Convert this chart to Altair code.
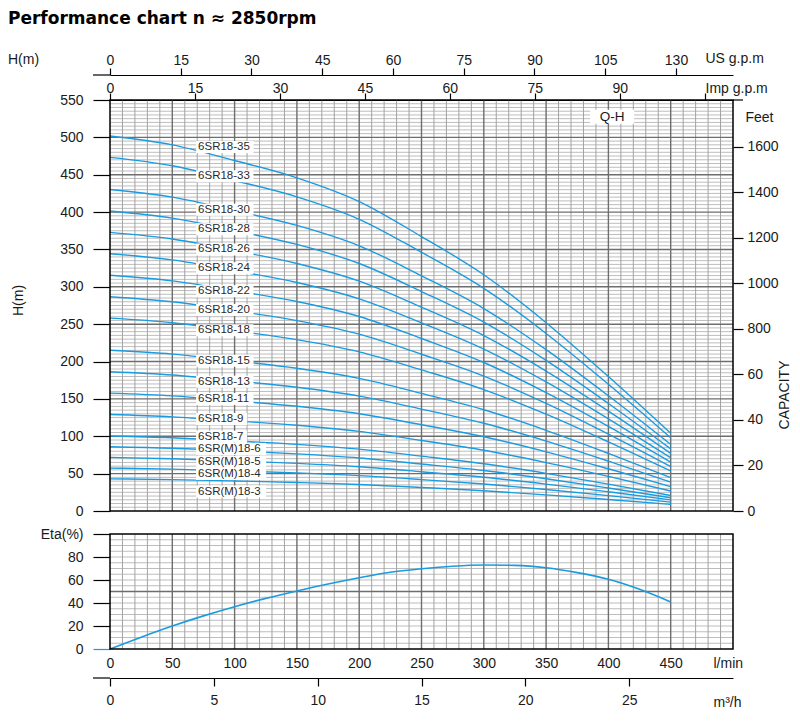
import altair as alt
import pandas as pd

FONT = "Liberation Sans"
BLUE = "#1a9be0"
TXT = "#1a1a1a"

# ---------------- data ----------------
flow_lpm = [0, 50, 100, 150, 200, 250, 300, 350, 400, 450]

models = ["6SR18-35", "6SR18-33", "6SR18-30", "6SR18-28", "6SR18-26", "6SR18-24",
          "6SR18-22", "6SR18-20", "6SR18-18", "6SR18-15", "6SR18-13", "6SR18-11",
          "6SR18-9", "6SR18-7", "6SR(M)18-6", "6SR(M)18-5", "6SR(M)18-4", "6SR(M)18-3"]

head_35 = [501.9, 490.0, 469.0, 445.9, 414.1, 367.2, 316.1, 252.0, 179.9, 104.0]
head_33 = [473.2, 462.0, 442.2, 420.4, 390.4, 346.2, 298.0, 237.6, 169.6, 98.0]
head_30 = [430.2, 420.0, 402.0, 382.2, 354.9, 314.7, 270.9, 216.0, 154.2, 89.1]
head_28 = [401.5, 392.0, 375.2, 356.7, 331.2, 293.7, 252.8, 201.6, 143.9, 83.2]
head_26 = [372.8, 364.0, 348.4, 331.2, 307.6, 272.7, 234.8, 187.2, 133.6, 77.2]
head_24 = [344.2, 336.0, 321.6, 305.8, 283.9, 251.8, 216.7, 172.8, 123.4, 71.3]
head_22 = [315.5, 308.0, 294.8, 280.3, 260.3, 230.8, 198.7, 158.4, 113.1, 65.3]
head_20 = [286.8, 280.0, 268.0, 254.8, 236.6, 209.8, 180.6, 144.0, 102.8, 59.4]
head_18 = [258.1, 252.0, 241.2, 229.3, 212.9, 188.8, 162.5, 129.6, 92.5, 53.5]
head_15 = [215.1, 210.0, 201.0, 191.1, 177.5, 157.4, 135.5, 108.0, 77.1, 44.6]
head_13 = [186.4, 182.0, 174.2, 165.6, 153.8, 136.4, 117.4, 93.6, 66.8, 38.6]
head_11 = [157.7, 154.0, 147.4, 140.1, 130.1, 115.4, 99.3, 79.2, 56.5, 32.7]
head_9 = [129.1, 126.0, 120.6, 114.7, 106.5, 94.4, 81.3, 64.8, 46.3, 26.7]
head_7 = [100.4, 98.0, 93.8, 89.2, 82.8, 73.4, 63.2, 50.4, 36.0, 20.8]
head_6 = [86.0, 84.0, 80.4, 76.4, 71.0, 62.9, 54.2, 43.2, 30.8, 17.8]
head_5 = [71.7, 70.0, 67.0, 63.7, 59.2, 52.5, 45.2, 36.0, 25.7, 14.9]
head_4 = [57.4, 56.0, 53.6, 51.0, 47.3, 42.0, 36.1, 28.8, 20.6, 11.9]
head_3 = [43.0, 42.0, 40.2, 38.2, 35.5, 31.5, 27.1, 21.6, 15.4, 8.9]

heads = [head_35, head_33, head_30, head_28, head_26, head_24, head_22, head_20, head_18,
         head_15, head_13, head_11, head_9, head_7, head_6, head_5, head_4, head_3]

# head (m) at which each curve's name label sits
label_head = [487, 448, 403, 377, 350, 325, 294, 269, 242, 201, 173, 150, 123, 99.5, 83, 66, 49.5, 26]

eta_flow = [0, 25, 50, 75, 100, 125, 150, 175, 200, 225, 250, 275, 300, 325, 350, 375, 400, 425, 450]
eta_pct = [0, 10.3, 20.0, 28.8, 36.8, 44.0, 50.4, 56.5, 62.0, 66.8, 69.8, 72.0, 73.0, 72.7, 70.7, 66.4, 60.6, 51.9, 40.9]

# axis ticks / labels
h_ticks = [0, 50, 100, 150, 200, 250, 300, 350, 400, 450, 500, 550]
feet_ticks = [0, 200, 400, 600, 800, 1000, 1200, 1400, 1600]
feet_labels = ["0", "20", "40", "60", "800", "1000", "1200", "1400", "1600"]
us_ticks = [0, 15, 30, 45, 60, 75, 90, 105, 120]
us_labels = ["0", "15", "30", "45", "60", "75", "90", "105", "130"]
imp_ticks = [0, 15, 30, 45, 60, 75, 90, 105]
imp_labels = ["0", "15", "30", "45", "60", "75", "90", ""]
lmin_ticks = [0, 50, 100, 150, 200, 250, 300, 350, 400, 450]
m3h_ticks = [0, 5, 10, 15, 20, 25, 30]
m3h_labels = ["0", "5", "10", "15", "20", "25", ""]
eta_ticks = [0, 20, 40, 60, 80, 100]
eta_labels = ["0", "20", "40", "60", "80", "Eta(%)"]

# ---------------- geometry / units ----------------
W = 623
H_MAIN = 411          # Q-H panel height
GAP = 23              # gap between the two panels
H_ETA = 115           # efficiency panel height
HT = H_MAIN + GAP + H_ETA
Q_MAX = 500
H_MAX = 550
LPM_PER_USGPM = 3.785411784
LPM_PER_IMPGPM = 4.54609
FT_PER_M = 3.28084
LPM_PER_M3H = 1000 / 60
PXQ = W / Q_MAX
PXH = H_MAIN / H_MAX

us_max = Q_MAX / LPM_PER_USGPM
imp_max = Q_MAX / LPM_PER_IMPGPM
m3h_max = Q_MAX / LPM_PER_M3H
ft_max = H_MAX * FT_PER_M


def lookup_expr(ticks, labels):
    t = ",".join(str(v) for v in ticks)
    l = ",".join("'" + s + "'" for s in labels)
    return f"[{l}][indexof([{t}], datum.value)]"


def qsc():
    return alt.Scale(domain=[0, Q_MAX], nice=False, zero=False)


def hsc():
    return alt.Scale(domain=[0, H_MAX], range=[H_MAIN, 0], nice=False)


def esc():
    return alt.Scale(domain=[0, 100], range=[HT, HT - H_ETA], nice=False)


def XQ(f="q", axis=None):
    return alt.X(f"{f}:Q", scale=qsc(), axis=axis)


def YH(f="h", axis=None):
    return alt.Y(f"{f}:Q", scale=hsc(), axis=axis)


def YE(f="h", axis=None):
    return alt.Y(f"{f}:Q", scale=esc(), axis=axis)


h_axis = alt.Axis(orient="left", values=h_ticks, tickSize=17, domain=False, grid=False, labelPadding=10,
                  labelFlush=False, labelOverlap=False,
                  title="H(m)", titleX=-92, titleY=200, titleAngle=270,
                  titleAlign="center", titleBaseline="middle")
eta_axis = alt.Axis(orient="left", values=eta_ticks, labelExpr=lookup_expr(eta_ticks, eta_labels),
                    tickSize=17, domain=False, grid=False, labelPadding=10, labelFlush=False,
                    labelOverlap=False, title=None,
                    tickColor={"condition": {"test": "datum.value === 0", "value": BLUE}, "value": "black"})
lmin_axis = alt.Axis(orient="bottom", values=lmin_ticks, ticks=False, tickSize=0, domain=False,
                     grid=False, labelPadding=7, labelFlush=False, labelOverlap=False,
                     title="l/min", titleX=603, titleY=14, titleAngle=0,
                     titleAlign="left", titleBaseline="middle")

MINOR_V = "#a2a2a2"
MINOR_H = "#bdbdbd"
MAJOR = "#6e6e6e"

v_minor = [q for q in range(10, Q_MAX, 10) if q % 50]
v_major = [q for q in range(50, Q_MAX, 50)]


def grid_layers(yfn, top, h_minor, h_major, y_axis=None, x_axis=None):
    vmin = pd.DataFrame({"q": v_minor, "a": 0, "b": top})
    vmaj = pd.DataFrame({"q": v_major, "a": 0, "b": top})
    l1 = alt.Chart(pd.DataFrame({"h": h_minor})).mark_rule(color=MINOR_H, strokeWidth=1).encode(
        y=yfn("h", y_axis))
    l2 = alt.Chart(vmin).mark_rule(color=MINOR_V, strokeWidth=1).encode(
        x=XQ("q", x_axis), y=yfn("a"), y2="b:Q")
    l3 = alt.Chart(pd.DataFrame({"h": h_major})).mark_rule(color=MAJOR, strokeWidth=1.4).encode(
        y=yfn("h"))
    l4 = alt.Chart(vmaj).mark_rule(color=MAJOR, strokeWidth=1.4).encode(
        x=XQ("q"), y=yfn("a"), y2="b:Q")
    return [l1, l2, l3, l4]


# ---------------- Q-H panel ----------------
curves_df = pd.DataFrame([{"model": m, "q": q, "h": h}
                          for m, hs in zip(models, heads) for q, h in zip(flow_lpm, hs)])

LABEL_Q = 70.7
lab_rows = []
for m, hc in zip(models, label_head):
    wpx = 6.3 * len(m) + 5
    lab_rows.append({"model": m, "q": LABEL_Q, "h": hc,
                     "q0": LABEL_Q - 2 / PXQ, "q1": LABEL_Q + wpx / PXQ,
                     "h0": hc - 6 / PXH, "h1": hc + 6 / PXH})
labels_df = pd.DataFrame(lab_rows)

QH_Q, QH_H = 403, 527.5
qh_df = pd.DataFrame([{"t": "Q-H", "q": QH_Q, "h": QH_H,
                       "q0": QH_Q - 22 / PXQ, "q1": QH_Q + 22 / PXQ,
                       "h0": QH_H - 7 / PXH, "h1": QH_H + 7 / PXH}])

main_grid = grid_layers(YH, H_MAX, [h for h in range(5, H_MAX, 5) if h % 50],
                        [h for h in range(50, H_MAX, 50)], y_axis=h_axis)

curves = alt.Chart(curves_df).mark_line(color=BLUE, strokeWidth=1.4, interpolate="monotone").encode(
    x=XQ(), y=YH(), detail="model:N")

boxes = alt.Chart(labels_df).mark_rect(color="white").encode(
    x=XQ("q0"), x2="q1:Q", y=YH("h0"), y2="h1:Q")
label_text = alt.Chart(labels_df).mark_text(align="left", baseline="middle", font=FONT,
                                            fontSize=11.5, color="#2a2a2a").encode(
    x=XQ(), y=YH(), text="model:N")

qh_box = alt.Chart(qh_df).mark_rect(color="white").encode(
    x=XQ("q0"), x2="q1:Q", y=YH("h0"), y2="h1:Q")
qh_text = alt.Chart(qh_df).mark_text(align="center", baseline="middle", font=FONT,
                                     fontSize=13.5, color=TXT).encode(
    x=XQ(), y=YH(), text="t:N")

main_border = alt.Chart(pd.DataFrame({"q0": [0], "q1": [Q_MAX], "h0": [0], "h1": [H_MAX]})).mark_rect(
    fillOpacity=0, stroke="black", strokeWidth=1.5).encode(
    x=XQ("q0"), x2="q1:Q", y=YH("h0"), y2="h1:Q")

one = pd.DataFrame({"k": [0]})
hm_text = alt.Chart(one).mark_text(text="H(m)", align="left", baseline="middle", font=FONT,
                                   fontSize=14, color=TXT).encode(
    x=alt.value(-102), y=alt.value(-40))
cap_text = alt.Chart(one).mark_text(text="CAPACITY", align="center", baseline="middle", font=FONT,
                                    fontSize=14, color=TXT, angle=270).encode(
    x=alt.value(W + 52), y=alt.value(295))

# top axes
imp_sc = lambda: alt.Scale(domain=[0, imp_max], nice=False, zero=False)
imp_axis = alt.Axis(orient="top", offset=0, values=imp_ticks, labelExpr=lookup_expr(imp_ticks, imp_labels),
                    tickSize=7, domain=True, grid=False, labelPadding=-2, labelFlush=False,
                    labelOverlap=False, title="Imp g.p.m", titleX=595, titleY=-12, titleAngle=0,
                    titleAlign="left", titleBaseline="middle")
imp_pts = alt.Chart(pd.DataFrame({"v": imp_ticks})).mark_point(opacity=0).encode(
    x=alt.X("v:Q", scale=imp_sc(), axis=imp_axis), y=alt.value(0))
imp_ext = alt.Chart(pd.DataFrame({"a": [imp_max], "b": [imp_max * (1 + 10 / W)]})).mark_rule(
    color="black", strokeWidth=1.2).encode(
    x=alt.X("a:Q", scale=imp_sc(), axis=None), x2="b:Q", y=alt.value(0))

us_sc = lambda: alt.Scale(domain=[0, us_max], nice=False, zero=False)
us_axis = alt.Axis(orient="top", offset=25, values=us_ticks, labelExpr=lookup_expr(us_ticks, us_labels),
                   tickSize=7, domain=True, grid=False, labelPadding=1, labelFlush=False,
                   labelOverlap=False, title="US g.p.m", titleX=595, titleY=-17, titleAngle=0,
                   titleAlign="left", titleBaseline="middle")
us_pts = alt.Chart(pd.DataFrame({"v": us_ticks})).mark_point(opacity=0).encode(
    x=alt.X("v:Q", scale=us_sc(), axis=us_axis), y=alt.value(0))
us_ext = alt.Chart(pd.DataFrame({"a": [-17 / W * us_max], "b": [0.0]})).mark_rule(
    color="black", strokeWidth=1.2).encode(
    x=alt.X("a:Q", scale=us_sc(), axis=None), x2="b:Q", y=alt.value(-25))

feet_axis = alt.Axis(orient="right", values=feet_ticks, labelExpr=lookup_expr(feet_ticks, feet_labels),
                     tickSize=10, domain=False, grid=False, labelPadding=4, labelFlush=False,
                     labelOverlap=False, title="Feet", titleAngle=0, titleX=12, titleY=17,
                     titleAlign="left", titleBaseline="middle")
feet_pts = alt.Chart(pd.DataFrame({"v": feet_ticks})).mark_point(opacity=0).encode(
    x=alt.value(0),
    y=alt.Y("v:Q", scale=alt.Scale(domain=[0, ft_max], range=[H_MAIN, 0], nice=False), axis=feet_axis))

# ---------------- efficiency panel ----------------
eta_grid = grid_layers(YE, 100, [h for h in range(5, 100, 5) if h != 50], [50],
                       y_axis=eta_axis, x_axis=lmin_axis)
eta_df = pd.DataFrame({"q": eta_flow, "h": eta_pct})
eta_line = alt.Chart(eta_df).mark_line(color=BLUE, strokeWidth=1.6, interpolate="monotone").encode(
    x=XQ(), y=YE())
eta_border = alt.Chart(pd.DataFrame({"q0": [0], "q1": [Q_MAX], "h0": [0], "h1": [100]})).mark_rect(
    fillOpacity=0, stroke="black", strokeWidth=1.5).encode(
    x=XQ("q0"), x2="q1:Q", y=YE("h0"), y2="h1:Q")

m3h_sc = lambda: alt.Scale(domain=[0, m3h_max], nice=False, zero=False)
m3h_axis = alt.Axis(orient="bottom", offset=29, values=m3h_ticks, labelExpr=lookup_expr(m3h_ticks, m3h_labels),
                    tickSize=8, domain=True, grid=False, labelPadding=7, labelFlush=False,
                    labelOverlap=False, title="m³/h", titleX=603, titleY=24, titleAngle=0,
                    titleAlign="left", titleBaseline="middle")
m3h_pts = alt.Chart(pd.DataFrame({"v": m3h_ticks})).mark_point(opacity=0).encode(
    x=alt.X("v:Q", scale=m3h_sc(), axis=m3h_axis), y=alt.value(HT))
m3h_ext = alt.Chart(pd.DataFrame({"a": [-17 / W * m3h_max], "b": [0.0]})).mark_rule(
    color="black", strokeWidth=1.2).encode(
    x=alt.X("a:Q", scale=m3h_sc(), axis=None), x2="b:Q", y=alt.value(HT + 29))

chart = alt.layer(
    *main_grid, curves, boxes, label_text, qh_box, qh_text, main_border, hm_text, cap_text,
    imp_pts, imp_ext, us_pts, us_ext, feet_pts,
    *eta_grid, eta_line, eta_border, m3h_pts, m3h_ext,
).resolve_scale(x="independent", y="independent").properties(
    width=W, height=HT,
    title=alt.TitleParams("Performance chart n ≈ 2850rpm", anchor="start", font="DejaVu Sans",
                          fontSize=17, fontWeight="bold", color="black", offset=23),
    padding={"left": 0, "top": 2, "right": 0, "bottom": 0},
).configure_view(strokeWidth=0).configure_axis(
    labelFont=FONT, labelFontSize=14, labelColor=TXT, titleFont=FONT, titleFontSize=14,
    titleFontWeight="normal", titleColor=TXT, tickColor="black", tickWidth=1.2,
    domainColor="black", domainWidth=1.2)

chart.save("out.html", embed_options={"renderer": "svg", "actions": False})
